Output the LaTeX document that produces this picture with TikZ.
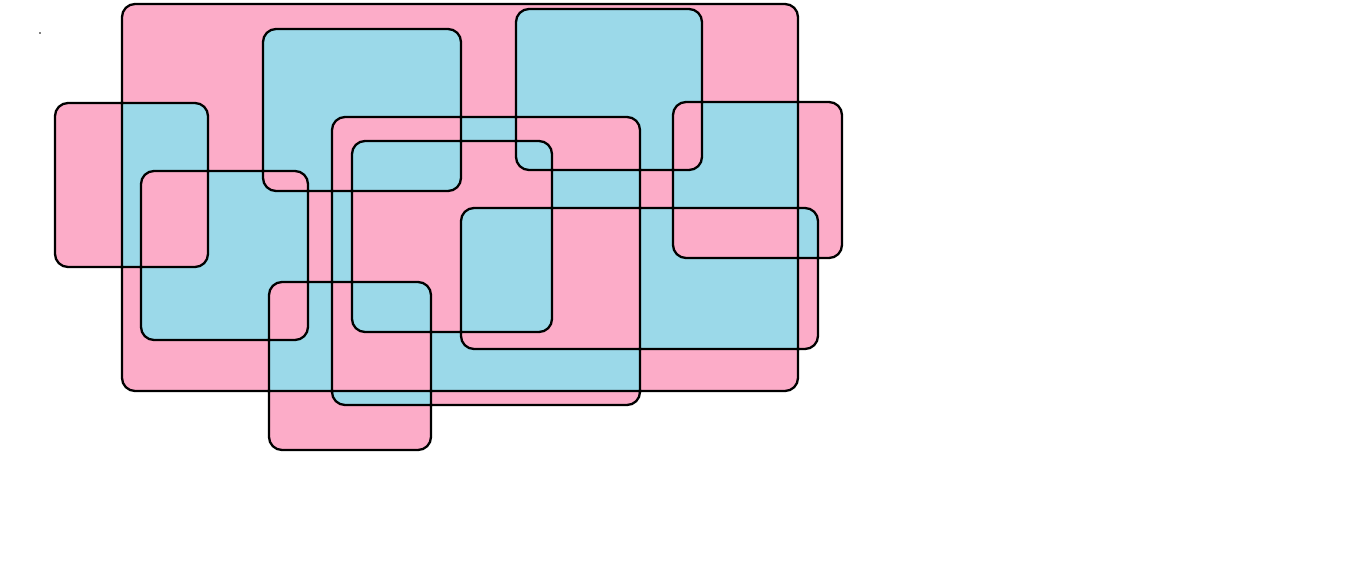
\documentclass[tikz,border=0pt]{standalone}
\usetikzlibrary{positioning}
\definecolor{venpink}{RGB}{252,172,200}
\definecolor{venblue}{RGB}{155,217,233}

% corners of the rounded boxes: left/top/right/bottom, in pixels
\newcommand{\boxlist}{122/4/798/391, 55/103/208/267, 141/171/308/340,
  263/29/461/191, 516/9/702/170, 332/117/640/405, 352/141/552/332,
  461/208/818/349, 673/102/842/258, 269/282/431/450}

\begin{document}
\begin{tikzpicture}[x=1pt, y=-1pt,
  patch/.style={rounded corners=13pt},
  rim/.style={draw=black, line width=2.3pt, rounded corners=13pt}
]
  \useasboundingbox (0,0) rectangle (1360,582);
  % union in blue, odd overlaps in pink
  \fill[venblue, patch] \foreach \l/\t/\r/\b in \boxlist {(\l,\t) rectangle (\r,\b)};
  \fill[venpink, patch, even odd rule] \foreach \l/\t/\r/\b in \boxlist {(\l,\t) rectangle (\r,\b)};
  \draw[rim] \foreach \l/\t/\r/\b in \boxlist {(\l,\t) rectangle (\r,\b)};
  \fill[black] (40,33) circle (0.8pt);
\end{tikzpicture}
\end{document}
